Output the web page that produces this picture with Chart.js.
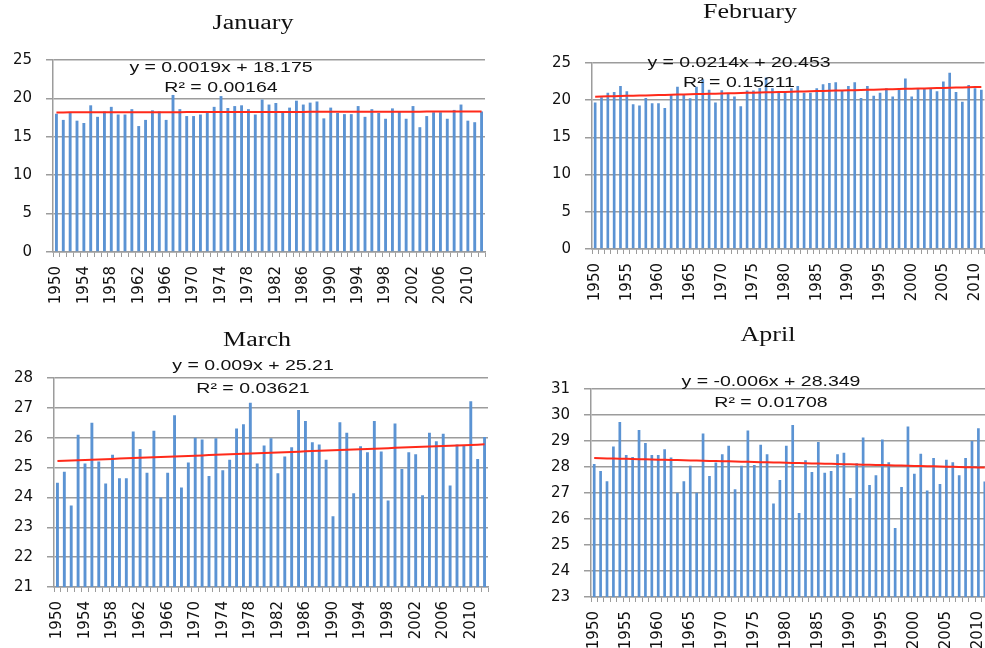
<!DOCTYPE html>
<html>
<head>
<meta charset="utf-8">
<script src="https://cdn.jsdelivr.net/npm/chart.js@4.4.1/dist/chart.umd.min.js"></script>
<style>
  html, body { margin: 0; padding: 0; background: #fff; overflow: hidden; }
  #wrap { position: relative; width: 985px; height: 648px; overflow: hidden; background: #fff; }
  #wrap canvas { position: absolute; }
</style>
</head>
<body>
<div id="wrap">
  <canvas id="janChart"></canvas>
  <canvas id="febChart"></canvas>
  <canvas id="marChart"></canvas>
  <canvas id="aprChart"></canvas>
</div>
<script>
// Years on the category axes
const yearsLong = [
  1950, 1951, 1952, 1953, 1954, 1955, 1956, 1957, 1958, 1959,
  1960, 1961, 1962, 1963, 1964, 1965, 1966, 1967, 1968, 1969,
  1970, 1971, 1972, 1973, 1974, 1975, 1976, 1977, 1978, 1979,
  1980, 1981, 1982, 1983, 1984, 1985, 1986, 1987, 1988, 1989,
  1990, 1991, 1992, 1993, 1994, 1995, 1996, 1997, 1998, 1999,
  2000, 2001, 2002, 2003, 2004, 2005, 2006, 2007, 2008, 2009,
  2010, 2011, 2012
];
const yearsShort = [
  1950, 1951, 1952, 1953, 1954, 1955, 1956, 1957, 1958, 1959,
  1960, 1961, 1962, 1963, 1964, 1965, 1966, 1967, 1968, 1969,
  1970, 1971, 1972, 1973, 1974, 1975, 1976, 1977, 1978, 1979,
  1980, 1981, 1982, 1983, 1984, 1985, 1986, 1987, 1988, 1989,
  1990, 1991, 1992, 1993, 1994, 1995, 1996, 1997, 1998, 1999,
  2000, 2001, 2002, 2003, 2004, 2005, 2006, 2007, 2008, 2009,
  2010, 2011
];

// Labelled years on the x axes
const tickYearsBy4 = [1950, 1954, 1958, 1962, 1966, 1970, 1974, 1978, 1982, 1986, 1990, 1994, 1998, 2002, 2006, 2010];
const tickYearsBy5 = [1950, 1955, 1960, 1965, 1970, 1975, 1980, 1985, 1990, 1995, 2000, 2005, 2010];

// Monthly mean temperatures
const janTemp = [
  18.0, 17.2, 18.15, 17.1, 16.8, 19.1, 17.6, 18.3, 18.9, 17.9,
  17.9, 18.6, 16.4, 17.2, 18.45, 18.3, 17.2, 20.45, 18.6, 17.7,
  17.7, 17.9, 18.3, 18.9, 20.3, 18.75, 19.0, 19.1, 18.6, 17.9,
  19.85, 19.2, 19.4, 18.25, 18.8, 19.7, 19.2, 19.45, 19.6, 17.4,
  18.8, 18.1, 17.95, 17.95, 19.0, 17.6, 18.6, 18.1, 17.35, 18.7,
  18.3, 17.35, 19.0, 16.25, 17.7, 18.2, 18.2, 17.35, 18.5, 19.2,
  17.1, 16.9, 18.3
];
const febTemp = [
  19.7, 20.4, 21.0, 21.1, 21.9, 21.2, 19.45, 19.3, 20.3, 19.6,
  19.6, 18.95, 20.7, 21.8, 20.7, 20.25, 21.8, 22.8, 21.4, 19.7,
  21.35, 20.85, 20.5, 19.2, 21.3, 21.3, 21.65, 23.05, 21.6, 21.1,
  21.1, 21.6, 21.9, 21.0, 21.0, 21.6, 22.15, 22.3, 22.4, 21.35,
  21.9, 22.4, 20.3, 21.9, 20.6, 21.0, 21.6, 20.5, 21.6, 22.9,
  20.5, 21.6, 21.6, 21.6, 21.2, 22.5, 23.7, 21.1, 19.8, 22.05,
  21.6, 21.4
];
const marTemp = [
  24.49, 24.86, 23.73, 26.10, 25.14, 26.50, 25.20, 24.47, 25.43, 24.64,
  24.64, 26.21, 25.62, 24.83, 26.23, 24.00, 24.83, 26.75, 24.33, 25.17,
  26.00, 25.94, 24.72, 25.98, 24.91, 25.26, 26.31, 26.45, 27.17, 25.14,
  25.74, 25.98, 24.81, 25.37, 25.68, 26.93, 26.56, 25.85, 25.77, 25.26,
  23.37, 26.52, 26.17, 24.14, 25.71, 25.51, 26.56, 25.54, 23.90, 26.48,
  24.95, 25.51, 25.45, 24.07, 26.17, 25.88, 26.13, 24.40, 25.77, 25.73,
  27.22, 25.29, 26.02
];
const aprTemp = [
  28.12, 27.85, 27.45, 28.79, 29.73, 28.46, 28.38, 29.42, 28.92, 28.46,
  28.46, 28.68, 28.37, 27.01, 27.45, 28.05, 27.01, 29.29, 27.65, 28.17,
  28.49, 28.82, 27.14, 28.05, 29.40, 28.08, 28.86, 28.49, 26.60, 27.50,
  28.82, 29.62, 26.23, 28.26, 27.81, 28.96, 27.78, 27.85, 28.49, 28.55,
  26.81, 28.14, 29.13, 27.31, 27.68, 29.06, 28.18, 25.65, 27.23, 29.56,
  27.74, 28.51, 27.10, 28.35, 27.35, 28.28, 28.18, 27.68, 28.35, 29.00,
  29.49, 27.44
];

// Linear trend coefficients [slope, intercept] (x = 1, 2, 3, ...)
const janFit = [0.0019, 18.175];
const febFit = [0.0214, 20.453];
const marFit = [0.009, 25.21];
const aprFit = [-0.006, 28.349];

// Trendline equation labels
const janEq = ['y = 0.0019x + 18.175', 'R\u00B2 = 0.00164'];
const febEq = ['y = 0.0214x + 20.453', 'R\u00B2 = 0.15211'];
const marEq = ['y = 0.009x + 25.21', 'R\u00B2 = 0.03621'];
const aprEq = ['y = -0.006x + 28.349', 'R\u00B2 = 0.01708'];

const BAR_COLOR = '#5b93d3';
const TREND_COLOR = '#ff2a1a';
const GRID_COLOR = '#9c9c9c';
const TEXT_STRETCH = 1.3;

// Draws the panel title and the trendline equation (horizontally widened text)
const panelText = {
  id: 'panelText',
  afterDatasetsDraw(chart, args, opts) {
    const ctx = chart.ctx;
    for (const t of opts.items || []) {
      ctx.save();
      ctx.font = t.font;
      ctx.fillStyle = '#111';
      ctx.textAlign = 'center';
      ctx.textBaseline = 'middle';
      ctx.translate(t.x, t.y);
      ctx.scale(TEXT_STRETCH, 1);
      ctx.fillText(t.text, 0, 0);
      ctx.restore();
    }
  }
};

function buildPanel(cfg) {
  const canvas = document.getElementById(cfg.id);
  canvas.width = cfg.w;
  canvas.height = cfg.h;
  canvas.style.left = cfg.left + 'px';
  canvas.style.top = cfg.top + 'px';

  const padTop = cfg.area.t - cfg.top;
  const padRight = cfg.left + cfg.w - cfg.area.r;
  const yWidth = cfg.area.l - cfg.left;
  const xHeight = cfg.top + cfg.h - cfg.area.b;

  const labels = cfg.years.map(String);
  const trend = cfg.years.map((_, i) => cfg.fit[0] * (i + 1) + cfg.fit[1]);

  const titleFont = '20px "Liberation Serif", "Times New Roman", serif';
  const eqFont = '15px "Liberation Sans", Arial, sans-serif';
  const items = [
    { text: cfg.title, font: titleFont, x: cfg.titlePos[0] - cfg.left, y: cfg.titlePos[1] - cfg.top },
    { text: cfg.eq[0], font: eqFont, x: cfg.eqPos[0] - cfg.left, y: cfg.eqPos[1] - cfg.top },
    { text: cfg.eq[1], font: eqFont, x: cfg.eqPos[0] - cfg.left, y: cfg.eqPos[2] - cfg.top }
  ];

  return new Chart(canvas, {
    type: 'bar',
    data: {
      labels: labels,
      datasets: [
        {
          type: 'line',
          data: trend,
          borderColor: TREND_COLOR,
          borderWidth: 2,
          pointRadius: 0,
          tension: 0,
          fill: false,
          order: 1
        },
        {
          type: 'bar',
          data: cfg.values,
          backgroundColor: BAR_COLOR,
          barPercentage: 0.42,
          categoryPercentage: 1.0,
          order: 2
        }
      ]
    },
    options: {
      responsive: false,
      animation: false,
      events: [],
      layout: { padding: { top: padTop, right: padRight, bottom: 0, left: 0 } },
      plugins: {
        legend: { display: false },
        tooltip: { enabled: false },
        title: { display: false },
        panelText: { items: items }
      },
      scales: {
        x: {
          type: 'category',
          offset: true,
          grid: {
            display: true,
            offset: true,
            drawOnChartArea: false,
            drawTicks: true,
            tickLength: 5,
            color: GRID_COLOR,
            lineWidth: 1
          },
          border: { display: true, color: GRID_COLOR, width: 1.5 },
          ticks: {
            autoSkip: false,
            minRotation: 90,
            maxRotation: 90,
            padding: 9,
            color: '#111',
            font: { family: '"DejaVu Sans", sans-serif', size: 15 },
            callback: function (value) {
              const yr = Number(this.getLabelForValue(value));
              return cfg.tickYears.includes(yr) ? String(yr) : '';
            }
          },
          afterFit: (scale) => { scale.height = xHeight; }
        },
        y: {
          min: cfg.yMin,
          max: cfg.yMax,
          grid: {
            color: GRID_COLOR,
            lineWidth: 1.5,
            drawTicks: true,
            tickLength: 7
          },
          border: { display: true, color: GRID_COLOR, width: 1.5 },
          ticks: {
            stepSize: cfg.step,
            padding: 14,
            color: '#111',
            font: { family: '"DejaVu Sans", sans-serif', size: 15 }
          },
          afterFit: (scale) => { scale.width = yWidth; }
        }
      }
    },
    plugins: [panelText]
  });
}

buildPanel({
  id: 'janChart', left: 0, top: 0, w: 510, h: 320,
  area: { l: 53, t: 60, r: 485, b: 252 },
  years: yearsLong, values: janTemp, fit: janFit, eq: janEq,
  yMin: 0, yMax: 25, step: 5, tickYears: tickYearsBy4,
  title: 'January', titlePos: [253, 24], eqPos: [221, 68, 88]
});

buildPanel({
  id: 'febChart', left: 540, top: 0, w: 470, h: 320,
  area: { l: 592, t: 63, r: 984.5, b: 249 },
  years: yearsShort, values: febTemp, fit: febFit, eq: febEq,
  yMin: 0, yMax: 25, step: 5, tickYears: tickYearsBy5,
  title: 'February', titlePos: [750, 13], eqPos: [739, 63, 83]
});

buildPanel({
  id: 'marChart', left: 0, top: 320, w: 515, h: 330,
  area: { l: 54, t: 378, r: 488, b: 587 },
  years: yearsLong, values: marTemp, fit: marFit, eq: marEq,
  yMin: 21, yMax: 28, step: 1, tickYears: tickYearsBy4,
  title: 'March', titlePos: [257, 341], eqPos: [253, 366, 389]
});

buildPanel({
  id: 'aprChart', left: 540, top: 320, w: 475, h: 330,
  area: { l: 591, t: 389, r: 988, b: 597 },
  years: yearsShort, values: aprTemp, fit: aprFit, eq: aprEq,
  yMin: 23, yMax: 31, step: 1, tickYears: tickYearsBy5,
  title: 'April', titlePos: [768, 336], eqPos: [771, 382, 403]
});
</script>
</body>
</html>
